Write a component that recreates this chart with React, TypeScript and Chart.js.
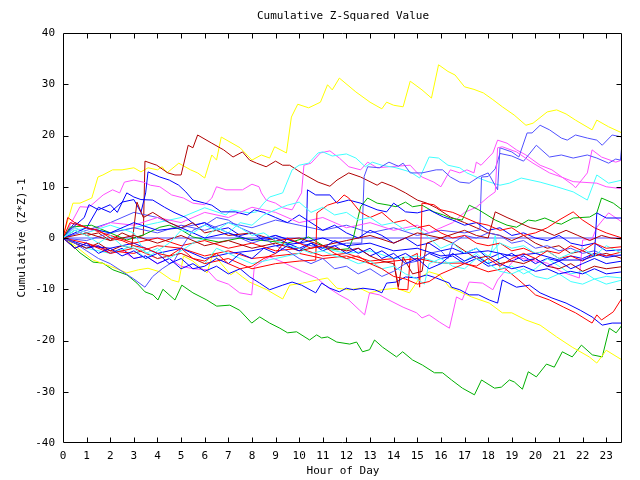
import { useEffect, useRef } from "react";
import { Chart, registerables } from "chart.js";
Chart.register(...registerables);

type P = [number, number];

const hourTicks = [0, 1, 2, 3, 4, 5, 6, 7, 8, 9, 10, 11, 12, 13, 14, 15, 16, 17, 18, 19, 20, 21, 22, 23];
const valueTicks = [-40, -30, -20, -10, 0, 10, 20, 30, 40];

const yellowTop: P[] = [[0,0],[0.08,1.5],[0.42,6.8],[0.72,6.8],[1.22,7.8],[1.48,11.9],[1.69,12.3],[2.1,13.3],[2.5,13.3],[3.0,13.7],[3.3,12.9],[3.6,13.7],[4.0,13.3],[4.2,13.9],[4.4,12.7],[4.9,14.6],[5.4,13.3],[5.7,12.7],[6.0,11.7],[6.3,16.2],[6.5,15.2],[6.7,19.7],[7.5,17.6],[8.0,15.2],[8.4,16.2],[8.75,15.6],[8.96,17.8],[9.46,16.6],[9.67,23.6],[9.94,26.1],[10.4,25.4],[10.9,26.5],[11.2,29.9],[11.4,28.9],[11.7,31.2],[12.4,28.5],[13.0,26.5],[13.5,25.2],[13.7,26.5],[14.0,25.9],[14.4,25.6],[14.7,30.6],[15.2,28.9],[15.6,27.3],[15.9,33.8],[16.3,32.5],[16.6,31.8],[17.0,29.5],[17.4,29.0],[17.8,28.3],[18.2,27.0],[18.6,25.6],[19.1,24.0],[19.6,22.0],[19.9,22.4],[20.5,24.6],[20.9,25.0],[21.3,24.2],[21.7,23.0],[22.4,21.1],[22.6,23.0],[23.1,21.7],[23.67,20.5]];
const yellowLow: P[] = [[0,0],[0.5,-1.5],[1.27,-4.3],[2,-5.5],[2.7,-6.8],[3.2,-6.2],[3.6,-5.9],[4.1,-6.6],[4.6,-8.2],[4.9,-8.6],[5.1,-3.5],[5.5,-4.5],[6.1,-6.8],[6.35,-2.9],[6.7,-5],[7.1,-7.2],[7.3,-6.5],[7.6,-7.6],[7.9,-8.6],[8.63,-10.1],[9.3,-11.9],[9.6,-9.2],[10.15,-8.8],[10.74,-8.2],[11.2,-7.8],[11.6,-9.8],[12.1,-10.1],[12.56,-9.8],[12.98,-10.7],[13.5,-10.1],[14.1,-9.8],[14.67,-10.7],[15.1,-7.8],[15.5,-6.6],[15.94,-7.2],[16.36,-9.6],[17.3,-11.5],[18.05,-12.7],[18.6,-14.6],[19.0,-14.6],[19.6,-16],[20.2,-17],[20.9,-19.3],[21.56,-21.3],[22.28,-23.2],[22.6,-24.4],[23.0,-21.9],[23.67,-23.8]];
const greenLow: P[] = [[0,0],[0.3,-1],[0.72,-2.9],[1.27,-4.7],[1.69,-4.9],[2.11,-6.2],[2.71,-7.2],[3.13,-8.8],[3.47,-10.5],[3.81,-11.1],[4.02,-12.1],[4.23,-10],[4.74,-12.1],[5.03,-9.2],[5.5,-10.7],[6.09,-12.1],[6.51,-13.3],[7.06,-13.1],[7.48,-14.1],[7.99,-16.6],[8.33,-15.4],[8.75,-16.6],[9.18,-17.6],[9.51,-18.5],[9.89,-18.3],[10.44,-19.9],[10.74,-18.9],[10.95,-19.5],[11.21,-19.3],[11.59,-20.3],[12.14,-20.7],[12.43,-20.3],[12.68,-22.2],[12.98,-21.8],[13.19,-19.9],[13.53,-21.3],[14.12,-23.2],[14.38,-22.2],[14.8,-23.8],[15.22,-24.8],[15.73,-26.3],[16.07,-26.3],[16.45,-27.7],[16.91,-29.3],[17.42,-30.6],[17.72,-27.7],[18.27,-29.3],[18.56,-29.1],[18.9,-27.7],[19.11,-28.1],[19.45,-29.5],[19.7,-26.1],[20.04,-27.1],[20.47,-24.6],[20.8,-25.2],[21.14,-22.2],[21.56,-23.2],[21.95,-20.9],[22.41,-22.8],[22.83,-23.2],[23.13,-17.6],[23.42,-18.5],[23.67,-17.0]];
const greenMid: P[] = [[0,0],[0.3,2.1],[1.2,2.5],[1.9,1.2],[2.7,-0.4],[3.4,0.6],[4.1,2.1],[4.5,2.5],[5.0,1.6],[5.5,0.2],[6.6,-0.8],[7.5,0],[8.5,-0.5],[9.5,-1],[10.4,0.2],[11.2,-2],[11.6,-2.3],[12.1,-2.1],[12.3,0.2],[12.6,6.1],[12.9,7.8],[13.3,6.8],[13.8,6.4],[14.1,6.1],[14.5,7.0],[14.8,6.1],[15.2,6.4],[15.7,5.1],[16.1,4.5],[16.4,3.9],[16.9,3.5],[17.2,6.4],[17.6,5.5],[18.3,3.5],[18.8,2.5],[19.2,2.1],[19.7,3.5],[20.0,3.3],[20.4,3.9],[20.9,2.9],[21.1,2.7],[21.6,3.9],[22.3,4.1],[22.6,4.9],[22.8,7.8],[23.3,6.8],[23.67,5.5]];
const darkRedTop: P[] = [[0,0],[0.5,1.5],[1,0.5],[1.5,1],[2,-0.5],[2.5,1],[3,0],[3.4,0.5],[3.47,15.0],[3.97,14.2],[4.44,12.7],[4.74,12.3],[5.0,12.3],[5.3,18.1],[5.5,17.6],[5.7,20.1],[6.3,18.5],[6.8,17.2],[7.2,15.8],[7.6,16.8],[7.9,15.2],[8.2,14.6],[8.6,13.9],[9.0,15.0],[9.3,14.2],[9.6,14.2],[10.1,12.7],[10.8,10.9],[11.3,10.1],[11.6,11.3],[12.1,12.7],[12.6,11.9],[13.3,10.3],[13.5,10.9],[14.0,10.0],[14.5,8.8],[15.0,7.4],[15.4,6.8],[15.8,5.9],[16.4,4.1],[17,3],[17.5,2],[18,1],[18.5,0.5],[19,-0.5],[19.5,0.5],[20,-1],[20.5,-2],[21,-1.5],[21.5,-3],[22,-2.5],[22.5,-3.5],[23,-3],[23.67,-4]];
const darkRedMid: P[] = [[0,0],[0.5,-1],[1,-2],[1.5,-1],[2,-2.5],[2.5,-1.5],[2.9,-2],[3.13,7],[3.4,4],[3.8,5],[4.5,3],[5,2],[5.5,3],[6,1],[6.5,1.5],[7,0.5],[8,1],[9,-0.5],[10,0],[11,-1.5],[12,-2.5],[12.5,-2],[13,-3.5],[13.5,-4.5],[14,-5],[14.2,-9.5],[14.4,-3.7],[14.8,-7],[15.2,-6.5],[15.4,-1],[16,0],[16.5,-1],[17,-2.5],[17.5,-4],[18,-3.5],[18.5,-5],[19,-4.5],[19.5,-5],[20,-4],[20.5,-5.5],[21,-6],[21.5,-5],[22,-6.5],[22.5,-5.5],[23,-6],[23.67,-5.6]];
const darkRedLow: P[] = [[0,0],[1,1],[2,-0.5],[3,0.5],[4,-1],[5,0.5],[6,-1.5],[7,-0.5],[8,-2],[9,-1],[10,-2.5],[11,-1.5],[12,-0.5],[13,0.5],[14,-1],[15,1],[16,0],[17,1.5],[17.5,0.5],[18,0],[18.3,5.1],[18.8,4],[19.3,3],[19.8,2],[20.3,1.5],[20.8,0.5],[21.3,1.5],[21.8,0.5],[22.3,-0.5],[22.8,0.5],[23.2,0],[23.67,-0.2]];
const redLow: P[] = [[0,0],[1,-1],[2,-2.5],[3,-3],[4,-1.5],[5,-2],[6,-3.5],[7,-2.5],[8,-4],[9,-3.5],[10,-3],[11,-4],[12,-3.5],[13,-5],[14,-4.5],[15,-4],[16,-4.9],[17,-4.9],[18,-6.6],[18.7,-5.9],[19.3,-8.2],[19.7,-9.8],[20.0,-11.1],[20.6,-12.1],[21.2,-13.5],[21.7,-14.6],[22.4,-16.6],[22.6,-15.0],[22.8,-16.0],[23.3,-14.4],[23.67,-11.7]];
const redJump15: P[] = [[0,0],[0.3,3],[1,2],[2,0.5],[3,-1],[4,0],[5,-1.5],[6,-0.5],[7,-2],[8,-1],[9,-2.5],[10,-2],[11,-3.5],[12,-3],[13,-4.5],[14,-4],[14.2,-10],[14.6,-10.1],[14.7,-3.7],[15,-3],[15.1,-9.6],[15.2,6.8],[15.7,6.5],[16,5.5],[16.5,5],[17,4],[17.5,3],[18,2.5],[18.5,1.5],[19,2],[19.5,0.5],[20,1],[20.5,2],[21,3.5],[21.6,5.1],[22,3.5],[22.5,2],[23,1],[23.67,0]];
const redJump11: P[] = [[0,0],[0.5,-2],[1,-1],[2,-3],[3,-2],[4,-4],[5,-3],[6,-5],[7,-4],[8,-6],[9,-5],[10,-4.5],[10.7,-4.3],[10.75,4.9],[11.2,6.4],[11.6,7.0],[11.9,8.4],[12.1,7.8],[12.6,5],[13,4],[13.5,5],[14,3],[14.5,3.5],[15,2],[15.5,2.5],[16,1],[16.5,0],[17,0.5],[17.5,-1],[18,-1.5],[18.5,-1],[19,-2.5],[19.5,-2],[20,-3],[20.5,-2.5],[21,-4],[21.5,-3.5],[22,-4.5],[22.5,-3],[23,-3.5],[23.67,-2.7]];
const redEarly: P[] = [[0,0],[0.2,4],[0.5,3],[1,2],[1.5,1.5],[2,0],[2.5,-0.5],[3,-1.5],[3.5,-2],[4,-3],[4.5,-3.5],[5,-2],[5.5,-4],[6,-4.5],[6.5,-3],[7,-5],[7.5,-6],[8,-5.5],[8.5,-4],[9,-3],[9.5,0],[10,-1],[10.5,-2],[11,-1.5],[11.5,-3],[12,-4],[12.5,-3.5],[13,-5],[13.5,-6],[14,-7.5],[14.5,-8],[15,-9],[15.5,-8.5],[16,-7],[16.5,-6],[17,-5],[17.5,-5.5],[18,-4],[18.5,-5.5],[19,-4],[19.5,-3],[20,-4],[20.5,-2.5],[21,-3],[21.5,-1.5],[22,-2.5],[22.5,-1],[23,-2],[23.67,-1.7]];
const magentaTop: P[] = [[0,0],[0.3,2.5],[0.72,6.1],[1.1,6.0],[1.7,8.4],[2.1,9.4],[2.4,8.8],[2.6,10.9],[3.0,11.3],[3.4,10.9],[3.7,10.3],[4.1,10.0],[4.6,8.4],[5.1,7.8],[5.5,6.8],[6.0,6.5],[6.3,7.8],[6.5,10.0],[6.9,9.4],[7.6,9.4],[8.0,10.5],[8.3,10.0],[8.4,8.8],[8.6,7.4],[9.0,6.8],[9.3,5.9],[9.7,5.5],[10.1,8.8],[10.2,14.2],[10.5,14.6],[10.9,16.6],[11.3,17.0],[11.7,15.6],[12.1,13.9],[12.6,13.3],[12.9,14.8],[13.3,13.7],[13.8,13.9],[14.7,14.2],[15.0,12.7],[15.2,11.9],[15.7,10.9],[16.0,10.0],[16.4,13.3],[16.8,12.7],[17.1,13.3],[17.4,12.7],[17.5,14.8],[17.7,14.2],[18.2,16.6],[18.4,19.1],[18.8,18.5],[19.2,17.2],[19.6,16.2],[20.2,14.2],[20.7,13.3],[21.6,10.3],[21.7,9.8],[22.2,12.7],[22.4,17.2],[22.8,15.8],[23.4,14.8],[23.67,15.2]];
const magentaMid: P[] = [[0,0],[0.5,2],[1,1],[2,3],[3,2.5],[4,4],[5,3],[6,5],[7,4],[8,6],[9,5],[10,3],[11,4],[12,2],[13,3],[14,1.5],[15,2.5],[15.5,1],[16,2],[16.5,3],[17,5],[17.5,6],[18,8],[18.3,9],[18.4,17.6],[18.6,17.8],[19.2,16.8],[19.9,14.6],[20.6,12.7],[21.1,11.9],[21.6,11],[22.6,10.7],[23.0,10],[23.67,9.6]];
const magentaLow: P[] = [[0,0],[0.5,-1],[1,-2],[1.5,-1.5],[2,-3],[2.5,-2.5],[3,-4],[3.5,-3.5],[4,-5],[4.5,-4],[5,-5.5],[5.5,-6],[6.1,-6.2],[6.5,-8.2],[7.0,-9],[7.48,-10.7],[7.99,-11.1],[8.1,-5.6],[8.75,-3.7],[9.3,-4.7],[9.7,-5.6],[10.15,-6.6],[10.74,-7.8],[11.2,-9.6],[11.7,-11.1],[12.1,-12.1],[12.56,-14.1],[12.77,-15.0],[12.98,-10.7],[13.4,-11.1],[13.8,-12.1],[14.4,-13.5],[14.97,-14.6],[15.2,-15.6],[15.5,-15.0],[15.94,-16.4],[16.36,-17.6],[16.66,-11.5],[16.9,-12.1],[17.2,-8.6],[17.76,-8.8],[18.2,-10.1],[18.4,-8.2],[19.2,-3.7],[19.75,-4.3],[20.5,-4.9],[21.1,-6.6],[21.86,-7.8],[22.0,-0.4],[22.4,-0.2],[22.6,2.1],[23.1,4.9],[23.67,3.1]];
const cyanTop: P[] = [[0,0],[0.5,1.5],[1,2],[2,1],[3,2],[4,3],[5,4],[6,5.9],[6.9,4.5],[7.1,5.5],[7.9,4.9],[8.2,5.1],[8.5,6.8],[8.75,8.0],[9.3,8.8],[9.7,13.3],[10.0,14.2],[10.4,14.6],[10.8,16.6],[11.0,16.8],[11.4,16.0],[12.0,16.4],[12.4,15.6],[12.8,13.9],[13.1,14.8],[13.5,14.2],[14.1,13.7],[14.7,12.9],[15.1,11.7],[15.5,15.8],[15.9,15.6],[16.3,14.2],[16.8,13.7],[17.1,12.7],[17.6,11.7],[18.0,11.0],[18.5,10.3],[18.9,10.7],[19.4,11.7],[20.2,10.9],[20.9,10.0],[21.6,9.0],[22.2,7.4],[22.6,12.3],[23.1,10.7],[23.67,11.3]];
const cyanLow: P[] = [[0,0],[0.5,-1],[1,-2],[2,-3],[3,-1.5],[4,-4],[5,-3],[6,-5],[6.5,-2],[7,-3],[8,-5],[9,-4],[10,-3],[10.5,-1],[11,-2],[12,-3],[13,-2.5],[14,-4],[15,-3.5],[16,-5],[17,-4.5],[17.5,-3],[18,-5],[18.3,0.5],[18.5,-6],[19,-5.5],[19.5,-7],[20,-6],[20.5,-4],[21,-5.5],[21.5,-7],[22,-6.5],[22.5,-8],[23,-9],[23.67,-8.2]];
const cyanMid: P[] = [[0,0],[0.5,2],[1,1],[2,2.5],[3,1],[3.5,-3],[4,-2],[4.5,-4],[5,-2.5],[5.5,-1],[6,0],[6.5,2],[7,1],[7.5,3],[8,2.5],[8.5,4.5],[9,5.5],[9.5,6.4],[10,7],[10.5,5],[11,6],[11.5,4.5],[12,5],[12.5,3.5],[13,4],[13.5,2.5],[14,3],[14.5,1.5],[15,2],[15.5,0],[16,-2],[16.5,-1],[17,-3],[17.5,-2],[18,-3.5],[18.5,-1],[19,-2],[19.5,-1.5],[20,-3],[20.5,-2.5],[21,-4],[21.5,-3],[22,-2],[22.5,-3.5],[23,-1.5],[23.67,-3]];
const cyanDip: P[] = [[0,0],[0.5,1.5],[1,0.5],[1.5,-1],[2,0.5],[2.5,-1.5],[3,-2],[3.5,-4],[4,-2.5],[4.5,-1],[5,1.5],[5.5,1],[6,2.5],[6.5,1.5],[7,3],[7.5,2],[8,0.5],[8.5,1],[9,-0.5],[9.5,-1.5],[10,-2],[10.5,-3],[11,-2.5],[11.5,-3.5],[12,-4],[12.5,-5],[13,-4.5],[13.5,-6],[14,-5.5],[14.5,-7],[15,-8],[15.3,-9],[15.5,-5],[16,-4],[16.5,-5.5],[17,-6],[17.5,-4],[18,-5],[18.5,-6.5],[19,-7],[19.5,-6],[20,-7.5],[20.5,-8],[21,-7],[21.5,-8.5],[22,-9],[22.5,-8],[23,-7.5],[23.67,-7.8]];
const slateTop: P[] = [[0,0],[1,1.5],[2,3],[3,5],[4,4],[5,2],[6,3],[7,1],[8,-1],[9,0.5],[10,-1],[11,-2],[12,-1],[12.65,-1],[12.75,12],[12.9,13.9],[13.4,13.7],[13.8,14.8],[14.2,14],[14.4,14.6],[14.7,12.7],[15.2,12.7],[15.8,13.3],[16.07,13.3],[16.4,11.9],[16.8,10.9],[17.2,10.7],[17.6,11.9],[18.0,12.7],[18.4,9.4],[18.5,17.6],[19.0,16.8],[19.3,15.8],[19.65,20.5],[19.86,20.5],[20.2,22.0],[20.6,21.1],[21.1,19.5],[21.35,19.1],[21.7,20.1],[22.2,19.5],[22.6,19.1],[22.83,18.1],[23.25,20.1],[23.67,19.7]];
const slateJump: P[] = [[0,0],[1,-0.5],[2,1],[3,2],[4,1],[5,2.5],[6,1.5],[7,3],[8,2],[9,3.5],[10,2.5],[11,1.5],[12,2.5],[13,1],[14,2],[15,0.5],[16,1.5],[17,1],[17.65,1.6],[17.72,11.9],[18.0,12],[18.3,13.5],[18.5,16.5],[19,16],[19.5,15],[20.04,18.1],[20.6,15.8],[21.1,16.2],[21.6,15.6],[22.2,16.2],[22.6,15.6],[23.1,14.6],[23.4,15.4],[23.6,15.2],[23.67,18.5]];
const slateDip: P[] = [[0,0],[0.5,-1],[1,-2.5],[1.5,-4],[2,-5],[2.5,-6.5],[3,-8],[3.47,-9.6],[3.8,-7.5],[4.2,-6],[4.7,-4.5],[5,-2],[5.5,1.5],[6,2.5],[6.5,4],[7,3.5],[7.5,2],[8,1],[8.5,0],[9,-1.5],[9.5,-2.5],[10,-4],[10.5,-5],[11,-4],[11.5,-6],[12,-5.5],[12.5,-7],[13,-6],[13.5,-7.5],[14,-6.5],[14.5,-5],[15,-4.5],[15.5,-3],[16,-2.5],[16.3,-4],[16.5,-1],[17,0.5],[17.5,0],[18,1],[18.5,0.5],[19,-1],[19.5,-0.5],[20,-2],[20.5,-1.5],[21,-2.5],[21.5,-2],[22,-3],[22.5,-2.5],[23,-3.5],[23.67,-3.3]];
const zeroLine: P[] = [[0,0],[23.67,0]];
const blueUpper: P[] = [[0,0],[0.5,3],[1,2],[1.5,6],[2,5],[2.5,7],[3,7.5],[3.3,5],[3.5,8.8],[3.6,12.9],[4.1,11.9],[4.5,11.3],[4.9,10.3],[5.2,9.0],[5.5,7.4],[6.0,6.8],[6.3,6.4],[6.7,5.1],[7.3,5.1],[7.8,4.5],[8.1,5.5],[8.5,5],[9,4],[9.5,3],[10,4.5],[10.5,3],[11,1.5],[11.5,2.5],[12,1],[12.5,0],[13,1.5],[13.5,0.5],[14,-1],[14.5,0],[15,-1.5],[15.5,-1],[16,-2.5],[16.5,-2],[17,-3],[17.5,-2],[18,-4],[18.5,-3],[19,-4.5],[19.5,-3.5],[20,-5],[20.5,-4],[21,-4.5],[21.5,-3.5],[22,-4],[22.5,-3],[23,-3.8],[23.67,-3.3]];
const blueBump: P[] = [[0,0],[0.4,2],[0.9,4],[1.1,6.5],[1.5,5.5],[2,6.5],[2.3,5],[2.7,8.8],[3.0,8],[3.3,7.5],[3.8,7.4],[4.3,6],[4.7,5],[5.2,4],[5.6,2.5],[6,3],[6.5,1.5],[7,2],[7.5,0.5],[8,1],[8.5,-0.5],[9,0],[9.5,-1],[10,-2],[10.5,-1],[11,-2.5],[11.5,-1.5],[12,-3],[12.5,-2],[13,-3.5],[13.5,-2.5],[14,-4],[14.5,-3],[15,-4.5],[15.5,-3],[16,-4],[16.5,-3.5],[17,-5],[17.5,-4],[18,-5.5],[18.5,-5],[19,-6],[19.5,-5.5],[20,-6.5],[20.5,-6],[21,-7],[21.5,-6.5],[22,-7],[22.5,-6],[23,-7],[23.67,-6.6]];
const blueJump10: P[] = [[0,0],[1,-1.5],[2,-2],[3,-1],[4,-3],[5,-2],[6,-4],[7,-3],[8,-2.5],[9,-1.5],[10,-1],[10.3,0],[10.35,9.4],[10.7,8.4],[11.3,8.4],[11.6,6.8],[12.1,7.4],[12.6,6.8],[13.3,5.5],[13.7,5.1],[14.0,6.8],[14.5,5.1],[15.0,4.9],[15.5,5.5],[16.1,4.1],[16.5,3.5],[17,2.5],[17.5,3],[18,1.5],[18.5,2],[19,0.5],[19.5,1],[20,0],[20.5,-0.5],[21,0.5],[21.5,-1],[22,-1.5],[22.5,-1],[23,-2.5],[23.67,-2.3]];
const blueJump22: P[] = [[0,0],[1,2],[2,1],[3,3],[4,1.5],[5,2],[6,0],[7,1],[8,-0.5],[9,0.5],[10,-1],[11,0],[12,-1.5],[13,-1],[14,-2.5],[15,-2],[16,-3.5],[17,-3],[18,-2.5],[19,-3.5],[20,-3],[21,-4.3],[22,-4.3],[22.5,-3.5],[22.6,4.9],[23,3.9],[23.67,3.9]];
const blueMid: P[] = [[0,0],[0.5,-2],[1,-1],[1.5,-3],[2,-2],[2.5,-3.5],[3,-2.5],[3.5,-4],[4,-3],[4.5,-5],[5,-4],[5.5,-6],[6,-5.5],[6.5,-4],[7,-5],[7.5,-3],[8,-4],[8.5,-2],[9,-3],[9.5,-1.5],[10,-2.5],[10.5,-1],[11,-2],[11.5,-0.5],[12,-1.5],[12.5,-3],[13,-2],[13.5,-4],[14,-3],[14.5,-5],[15,-4],[15.5,-6],[16,-5],[16.5,-3],[17,-4.5],[17.5,-3.5],[18,-5],[18.5,-4],[19,-3],[19.5,-4.5],[20,-4],[20.5,-5.5],[21,-4.5],[21.5,-6],[22,-5],[22.5,-4],[23,-5],[23.67,-4.5]];
const blueLow: P[] = [[0,0],[0.5,-1],[1,-2],[1.5,-1.5],[2,-3],[2.5,-2],[3,-4],[3.5,-3.5],[4,-5],[4.5,-4],[5,-6],[5.5,-5],[6,-6.5],[6.5,-5.5],[7,-7],[7.5,-6],[7.91,-7.6],[8.33,-8.8],[8.75,-10.1],[9.3,-9.2],[9.7,-8.6],[10.1,-9.2],[10.7,-10.7],[10.95,-8.8],[11.3,-9.8],[11.7,-10.5],[12.0,-9.8],[12.3,-10.1],[12.7,-9.8],[13.2,-10.1],[13.5,-10.7],[13.7,-8.8],[14.1,-8.6],[14.5,-7.6],[14.97,-7.8],[15.4,-7.2],[15.8,-7.8],[16.36,-8.8],[16.45,-9.6],[16.8,-10.1],[17.2,-11.1],[17.6,-11.1],[18.05,-12.1],[18.4,-12.7],[18.6,-8.2],[19.2,-9.6],[19.75,-9.2],[20.2,-10.7],[20.7,-11.7],[21.3,-12.7],[21.9,-14.1],[22.4,-15.4],[22.83,-17.0],[23.25,-16.6],[23.67,-16.6]];

const RED = "#ff0000";
const GREEN = "#00b000";
const BLUE = "#0000ff";
const MAGENTA = "#ff50ff";
const CYAN = "#40ffff";
const DARKRED = "#b00000";
const YELLOW = "#ffff00";
const SLATE = "#5050ff";

const FONT_FAMILY = "DejaVu Sans Mono";

const framePlugin = {
  id: "gnuplotFrame",
  afterDatasetsDraw(chart: any) {
    const { ctx, chartArea: a, scales } = chart;
    const L = Math.round(a.left) + 0.5;
    const R = Math.round(a.right) - 0.5;
    const T = Math.round(a.top) + 0.5;
    const B = Math.round(a.bottom) - 0.5;
    ctx.save();
    ctx.strokeStyle = "#000";
    ctx.lineWidth = 1;
    ctx.beginPath();
    ctx.rect(L, T, R - L, B - T);
    for (const v of hourTicks) {
      if (v === 0) continue;
      const x = Math.round(scales.x.getPixelForValue(v)) + 0.5;
      ctx.moveTo(x, B);
      ctx.lineTo(x, B - 5);
      ctx.moveTo(x, T);
      ctx.lineTo(x, T + 5);
    }
    for (const v of valueTicks) {
      if (v === -40 || v === 40) continue;
      const y = Math.round(scales.y.getPixelForValue(v)) + 0.5;
      ctx.moveTo(L, y);
      ctx.lineTo(L + 5, y);
      ctx.moveTo(R, y);
      ctx.lineTo(R - 5, y);
    }
    ctx.stroke();
    ctx.fillStyle = "#000";
    ctx.font = `11px "${FONT_FAMILY}"`;
    ctx.textAlign = "center";
    ctx.textBaseline = "middle";
    ctx.fillText("Cumulative Z-Squared Value", 343, 16);
    ctx.fillText("Hour of Day", 343, 471);
    ctx.translate(22, 238);
    ctx.rotate(-Math.PI / 2);
    ctx.fillText("Cumulative (Z*Z)-1", 0, 0);
    ctx.restore();
  },
};

export default function App() {
  const ref = useRef<HTMLCanvasElement | null>(null);
  useEffect(() => {
    const series: [P[], string][] = [
      [redEarly, RED],
      [blueMid, BLUE],
      [cyanDip, CYAN],
      [darkRedLow, DARKRED],
      [blueJump22, BLUE],
      [cyanMid, CYAN],
      [redJump11, RED],
      [slateDip, SLATE],
      [darkRedMid, DARKRED],
      [blueBump, BLUE],
      [cyanLow, CYAN],
      [redJump15, RED],
      [blueJump10, BLUE],
      [greenMid, GREEN],
      [magentaMid, MAGENTA],
      [redLow, RED],
      [blueLow, BLUE],
      [magentaLow, MAGENTA],
      [blueUpper, BLUE],
      [slateJump, SLATE],
      [slateTop, SLATE],
      [cyanTop, CYAN],
      [magentaTop, MAGENTA],
      [darkRedTop, DARKRED],
      [yellowLow, YELLOW],
      [greenLow, GREEN],
      [yellowTop, YELLOW],
      [zeroLine, SLATE],
    ];
    const chart = new Chart(ref.current as HTMLCanvasElement, {
      type: "line",
      data: {
        datasets: series.map(([pts, c]) => ({
          data: pts.map(([x, y]) => ({ x, y })),
          borderColor: c,
          backgroundColor: c,
          borderWidth: 1,
          pointRadius: 0,
          tension: 0,
          fill: false,
        })),
      },
      options: {
        responsive: false,
        animation: false,
        events: [],
        layout: { padding: { left: 0, top: 33, right: 18, bottom: 0 } },
        plugins: { legend: { display: false }, tooltip: { enabled: false }, title: { display: false } },
        scales: {
          x: {
            type: "linear",
            min: 0,
            max: 23.667,
            grid: { display: false, drawTicks: false },
            border: { display: false },
            ticks: { color: "#000", font: { family: FONT_FAMILY, size: 11 }, padding: 7, maxRotation: 0, autoSkip: false },
            afterBuildTicks: (s: any) => {
              s.ticks = hourTicks.map((v) => ({ value: v }));
            },
            afterFit: (s: any) => {
              s.height = 37;
            },
          },
          y: {
            type: "linear",
            min: -40,
            max: 40,
            grid: { display: false, drawTicks: false },
            border: { display: false },
            ticks: { color: "#000", font: { family: FONT_FAMILY, size: 11 }, padding: 8 },
            afterBuildTicks: (s: any) => {
              s.ticks = valueTicks.map((v) => ({ value: v }));
            },
            afterFit: (s: any) => {
              s.width = 63;
            },
          },
        },
      },
      plugins: [framePlugin],
    });
    return () => chart.destroy();
  }, []);
  return (
    <div style={{ position: "fixed", left: 0, top: 0, width: 640, height: 480, background: "#fff" }}>
      <canvas ref={ref} width={640} height={480} style={{ display: "block" }} />
    </div>
  );
}
